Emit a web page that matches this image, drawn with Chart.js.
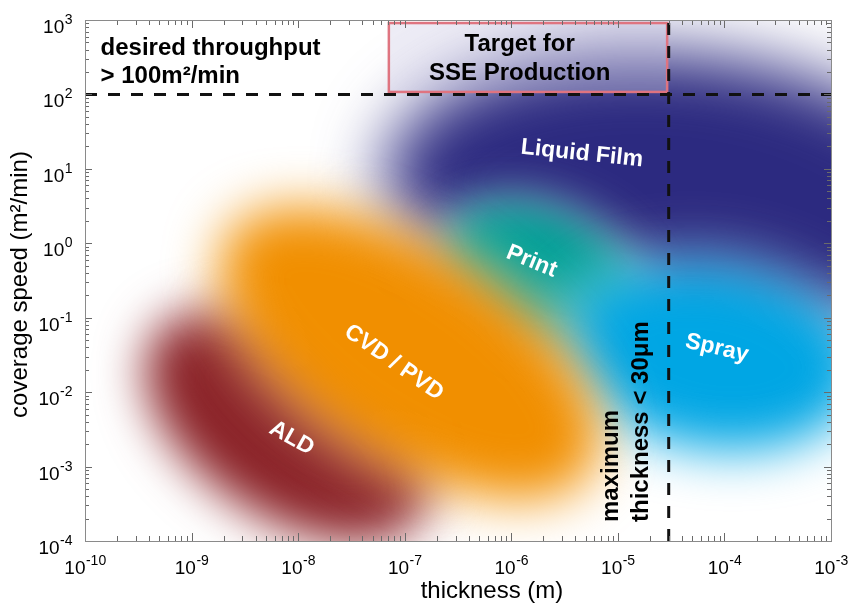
<!DOCTYPE html>
<html>
<head>
<meta charset="utf-8">
<title>Coating processes: thickness vs coverage speed</title>
<script src="https://cdn.jsdelivr.net/npm/chart.js@4.4.1/dist/chart.umd.min.js"></script>
<style>
  html, body { margin: 0; padding: 0; background: #fff; }
  #wrap { width: 849px; height: 604px; }
</style>
</head>
<body>
<div id="wrap"><canvas id="coatingChart" width="849" height="604"></canvas></div>
<script>
// axis ranges (decades)
const xTickExponents = [-10, -9, -8, -7, -6, -5, -4, -3];
const yTickExponents = [-4, -3, -2, -1, 0, 1, 2, 3];

// limits
const throughputTarget = 100;   // m²/min
const maxThickness = 3e-5;      // m

// process regions, in draw order. Each region is a soft ellipse whose long axis
// runs from (thicknessFrom, speedFrom) to (thicknessTo, speedTo);
// spreadDecades is the half width across it, in decades of speed.
const processes      = ['Liquid Film', 'Print', 'Spray', 'ALD', 'CVD / PVD'];
const thicknessFrom  = [6.6e-8, 2.4e-7, 3.1e-6, 4.5e-10, 2.2e-9];
const thicknessTo    = [1.76e-2, 1.8e-5, 1.9e-3, 1.54e-7, 5.6e-6];
const speedFrom      = [8.8, 1.35, 0.055, 0.055, 1.25];
const speedTo        = [1.87, 0.076, 0.015, 2.4e-4, 8.9e-4];
const spreadDecades  = [1.95, 0.91, 1.22, 1.25, 1.4];

// where each process name sits
const labelThickness = [4.6e-6, 1.55e-6, 8.5e-5, 8.7e-9, 7.9e-8];
const labelSpeed     = [16, 0.57, 0.039, 2.4e-3, 0.025];

// annotations
const throughputNote = ['desired throughput', '> 100m²/min'];
const targetLines = ['Target for', 'SSE Production'];
const targetThickness = [7.1e-8, 2.9e-5];
const targetSpeed = [108, 910];
const thicknessNote = ['maximum', 'thickness < 30μm'];

// styles, kept apart from the values
const regionColors = ['#2c2a80', '#00a096', '#00a6e4', '#8b2227', '#f18f00'];
const regionBlur   = [34, 20, 26, 24, 26];
const labelAngle   = [6, 22, 13, 29, 35];
const FONT = '"Liberation Sans", Arial, Helvetica, sans-serif';

function regionShape(chart, i) {
    const xs = chart.scales.x, ys = chart.scales.y;
    const x1 = xs.getPixelForValue(thicknessFrom[i]);
    const y1 = ys.getPixelForValue(speedFrom[i]);
    const x2 = xs.getPixelForValue(thicknessTo[i]);
    const y2 = ys.getPixelForValue(speedTo[i]);
    const decade = ys.getPixelForValue(1) - ys.getPixelForValue(10);
    return {
        cx: (x1 + x2) / 2,
        cy: (y1 + y2) / 2,
        rx: Math.hypot(x2 - x1, y2 - y1) / 2,
        ry: spreadDecades[i] * decade,
        rot: Math.atan2(y2 - y1, x2 - x1)
    };
}

const regionsPlugin = {
    id: 'regions',
    beforeDatasetsDraw(chart) {
        const { ctx, chartArea: a } = chart;
        ctx.save();
        ctx.beginPath();
        ctx.rect(a.left, a.top, a.right - a.left, a.bottom - a.top);
        ctx.clip();
        processes.forEach((name, i) => {
            const s = regionShape(chart, i);
            const blur = regionBlur[i];
            // pale halo first, so overlaps fade through white
            ctx.filter = 'blur(' + (blur * 1.2) + 'px)';
            ctx.globalAlpha = 0.45;
            ctx.fillStyle = '#ffffff';
            ctx.beginPath();
            ctx.ellipse(s.cx, s.cy, s.rx + blur * 0.5, s.ry + blur * 0.5, s.rot, 0, Math.PI * 2);
            ctx.fill();
            ctx.globalAlpha = 1;
            ctx.filter = 'blur(' + blur + 'px)';
            ctx.fillStyle = regionColors[i];
            ctx.beginPath();
            ctx.ellipse(s.cx, s.cy, s.rx, s.ry, s.rot, 0, Math.PI * 2);
            ctx.fill();
        });
        ctx.filter = 'none';

        // target box
        const xs = chart.scales.x, ys = chart.scales.y;
        const bx1 = xs.getPixelForValue(targetThickness[0]);
        const bx2 = xs.getPixelForValue(targetThickness[1]);
        const by1 = ys.getPixelForValue(targetSpeed[1]);
        const by2 = ys.getPixelForValue(targetSpeed[0]);
        ctx.fillStyle = 'rgba(205, 203, 228, 0.35)';
        ctx.fillRect(bx1, by1, bx2 - bx1, by2 - by1);
        ctx.strokeStyle = '#df7480';
        ctx.lineWidth = 2.5;
        ctx.strokeRect(bx1, by1, bx2 - bx1, by2 - by1);
        ctx.restore();
    },
    afterDatasetsDraw(chart) {
        const { ctx } = chart;
        const xs = chart.scales.x, ys = chart.scales.y;
        ctx.save();

        // process names
        ctx.fillStyle = '#ffffff';
        ctx.font = 'bold 23px ' + FONT;
        ctx.textAlign = 'center';
        ctx.textBaseline = 'middle';
        processes.forEach((name, i) => {
            ctx.save();
            ctx.translate(xs.getPixelForValue(labelThickness[i]), ys.getPixelForValue(labelSpeed[i]));
            ctx.rotate(labelAngle[i] * Math.PI / 180);
            ctx.fillText(name, 0, 0);
            ctx.restore();
        });

        ctx.fillStyle = '#000000';
        ctx.font = 'bold 24px ' + FONT;
        ctx.textBaseline = 'alphabetic';

        // throughput note, top left
        ctx.textAlign = 'left';
        const nx = xs.getPixelForValue(1.4e-10);
        const ny = ys.getPixelForValue(340);
        throughputNote.forEach((t, k) => ctx.fillText(t, nx, ny + k * 28));

        // target text
        ctx.textAlign = 'center';
        const tx = xs.getPixelForValue(1.2e-6);
        const ty = ys.getPixelForValue(383);
        targetLines.forEach((t, k) => ctx.fillText(t, tx, ty + k * 29));

        // vertical note next to the thickness limit
        ctx.save();
        ctx.translate(xs.getPixelForValue(1e-5), ys.getPixelForValue(1.8e-4));
        ctx.rotate(-Math.PI / 2);
        ctx.textAlign = 'left';
        thicknessNote.forEach((t, k) => ctx.fillText(t, 0, k * 30));
        ctx.restore();

        ctx.restore();
    }
};

function drawPower(ctx, exp, x, baseline, align) {
    const base = '10', sup = String(exp);
    ctx.font = '19px ' + FONT;
    const w1 = ctx.measureText(base).width;
    ctx.font = '14px ' + FONT;
    const w2 = ctx.measureText(sup).width;
    const start = align === 'center' ? x - (w1 + w2) / 2 : x - (w1 + w2);
    ctx.font = '19px ' + FONT;
    ctx.fillText(base, start, baseline);
    ctx.font = '14px ' + FONT;
    ctx.fillText(sup, start + w1 + 0.5, baseline - 9);
}

const axesPlugin = {
    id: 'logAxes',
    afterDatasetsDraw(chart) {
        const { ctx, chartArea: a } = chart;
        const xs = chart.scales.x, ys = chart.scales.y;
        ctx.save();
        ctx.strokeStyle = '#6a6a6a';
        ctx.lineWidth = 1;
        ctx.beginPath();
        for (let k = 0; k < xTickExponents.length; k++) {
            const e = xTickExponents[k];
            const last = k === xTickExponents.length - 1;
            for (let m = 1; m < (last ? 2 : 10); m++) {
                const px = Math.round(xs.getPixelForValue(m * Math.pow(10, e))) + 0.5;
                const len = m === 1 ? 8 : 5;
                ctx.moveTo(px, a.bottom); ctx.lineTo(px, a.bottom - len);
                ctx.moveTo(px, a.top); ctx.lineTo(px, a.top + len);
            }
        }
        for (let k = 0; k < yTickExponents.length; k++) {
            const e = yTickExponents[k];
            const last = k === yTickExponents.length - 1;
            for (let m = 1; m < (last ? 2 : 10); m++) {
                const py = Math.round(ys.getPixelForValue(m * Math.pow(10, e))) + 0.5;
                const len = m === 1 ? 7 : 4;
                ctx.moveTo(a.left, py); ctx.lineTo(a.left + len, py);
                ctx.moveTo(a.right, py); ctx.lineTo(a.right - len, py);
            }
        }
        ctx.stroke();
        ctx.strokeStyle = '#8a8a8a';
        ctx.strokeRect(Math.round(a.left) + 0.5, Math.round(a.top) + 0.5,
            Math.round(a.right - a.left), Math.round(a.bottom - a.top));

        // tick labels
        ctx.fillStyle = '#000000';
        ctx.textAlign = 'left';
        ctx.textBaseline = 'alphabetic';
        xTickExponents.forEach(e => {
            drawPower(ctx, e, xs.getPixelForValue(Math.pow(10, e)), a.bottom + 33, 'center');
        });
        yTickExponents.forEach(e => {
            drawPower(ctx, e, a.left - 13, ys.getPixelForValue(Math.pow(10, e)) + 13, 'right');
        });

        // axis titles
        ctx.font = '24px ' + FONT;
        ctx.textAlign = 'center';
        ctx.fillText('thickness (m)', 492, 598);
        ctx.save();
        ctx.translate(27, (a.top + a.bottom) / 2 + 4);
        ctx.rotate(-Math.PI / 2);
        ctx.fillText('coverage speed (m²/min)', 0, 0);
        ctx.restore();
        ctx.restore();
    }
};

const xMin = Math.pow(10, xTickExponents[0]);
const xMax = Math.pow(10, xTickExponents[xTickExponents.length - 1]);
const yMin = Math.pow(10, yTickExponents[0]);
const yMax = Math.pow(10, yTickExponents[yTickExponents.length - 1]);

const ctx = document.getElementById('coatingChart').getContext('2d');
const myChart = new Chart(ctx, {
    type: 'scatter',
    data: {
        datasets: [{
            label: 'desired throughput',
            data: [{ x: xMin, y: throughputTarget }, { x: xMax, y: throughputTarget }],
            showLine: true,
            borderColor: '#111111',
            borderWidth: 3,
            borderDash: [12, 11],
            pointRadius: 0
        }, {
            label: 'maximum thickness',
            data: [{ x: maxThickness, y: yMin }, { x: maxThickness, y: yMax }],
            showLine: true,
            borderColor: '#111111',
            borderWidth: 3,
            borderDash: [12, 11],
            pointRadius: 0
        }]
    },
    options: {
        responsive: false,
        animation: false,
        devicePixelRatio: 1,
        layout: { padding: { left: 85, right: 18, top: 20, bottom: 63 } },
        plugins: {
            legend: { display: false },
            tooltip: { enabled: false }
        },
        scales: {
            x: { type: 'logarithmic', min: xMin, max: xMax, display: false },
            y: { type: 'logarithmic', min: yMin, max: yMax, display: false }
        }
    },
    plugins: [regionsPlugin, axesPlugin]
});
</script>
</body>
</html>
